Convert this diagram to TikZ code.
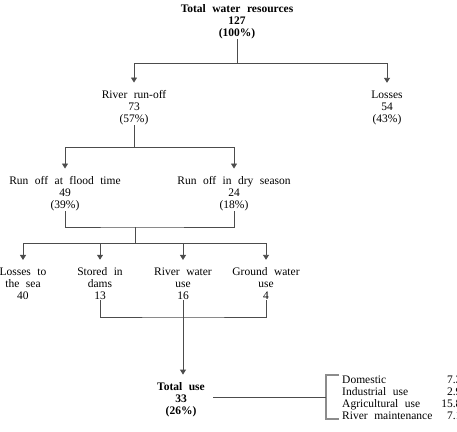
\documentclass[tikz,border=0pt]{standalone}
\usepackage{fontspec}
\setmainfont{Liberation Serif}
\usetikzlibrary{arrows.meta, calc}

\newcommand{\WideFont}{\fontsize{11.5}{12}\selectfont\spaceskip=6.5pt\relax}

\tikzset{
	lbl/.style={align=center, inner sep=0pt, font=\WideFont},
	lblbold/.style={lbl, font=\WideFont\bfseries},
	conn/.style={draw=black!70, line width=0.9pt},
	arr/.style={conn, shorten >=8pt, -{Triangle[width=6pt, length=5pt]}},
	brace/.style={draw=black!45, line width=1.3pt}
}

\begin{document}
\begin{tikzpicture}[x=1pt, y=-1pt]
	\useasboundingbox (0,0) rectangle (457,431);

	\node[lblbold] (total) at (237,22) {Total water resources\\127\\(100\%)};
	\node[lbl] (runoff) at (134,108) {River run-off\\73\\(57\%)};
	\node[lbl] (losses) at (387,108) {Losses\\54\\(43\%)};
	\node[lbl] (flood) at (65,194) {Run off at flood time\\49\\(39\%)};
	\node[lbl] (dry) at (234,194) {Run off in dry season\\24\\(18\%)};

	\node[lbl] (sea) at (23,284) {Losses to\\the sea\\40};
	\node[lbl] (dams) at (100,284) {Stored in\\dams\\13};
	\node[lbl] (river) at (183,284) {River water\\use\\16};
	\node[lbl] (ground) at (266,284) {Ground water\\use\\4};

	\node[lblbold] (use) at (181,400) {Total use\\33\\(26\%)};
	\node[lbl, anchor=west] (uses) at (342,399) {%
		\begin{tabular}{@{}l@{\hspace{9pt}}r@{}}
			Domestic & 7.3\\
			Industrial use & 2.9\\
			Agricultural use & 15.8\\
			River maintenance & 7.1
		\end{tabular}};

	% first split
	\coordinate (j1) at (237,63);
	\draw[conn] (total.south) -- (j1);
	\draw[arr] (j1) -| (runoff.north);
	\draw[arr] (j1) -| (losses.north);

	% run-off by season
	\coordinate (j2) at (134,147);
	\draw[conn] (runoff.south) -- (j2);
	\draw[arr] (j2) -| (flood.north);
	\draw[arr] (j2) -| (dry.north);

	\coordinate (j3) at (135,227);
	\coordinate (j4) at (135,243);
	\draw[conn] (flood.south) |- (j3) -| (dry.south);
	\draw[conn] (j3) -- (j4);
	\foreach \n in {sea, dams, river, ground}
		\draw[arr] (j4) -| (\n.north);

	% collected into total use
	\coordinate (j5) at (183,317);
	\draw[conn] (dams.south) |- (j5) -| (ground.south);
	\draw[arr] (river.south) -- (river.south |- use.north);

	% breakdown of use
	\coordinate (btop) at (339,375);
	\coordinate (bmid) at (326,397);
	\coordinate (bbot) at (339,419);
	\draw[brace] (btop) -| (bmid) |- (bbot);
	\draw[conn, shorten <=8pt] (use.east |- bmid) -- (bmid);

\end{tikzpicture}
\end{document}
